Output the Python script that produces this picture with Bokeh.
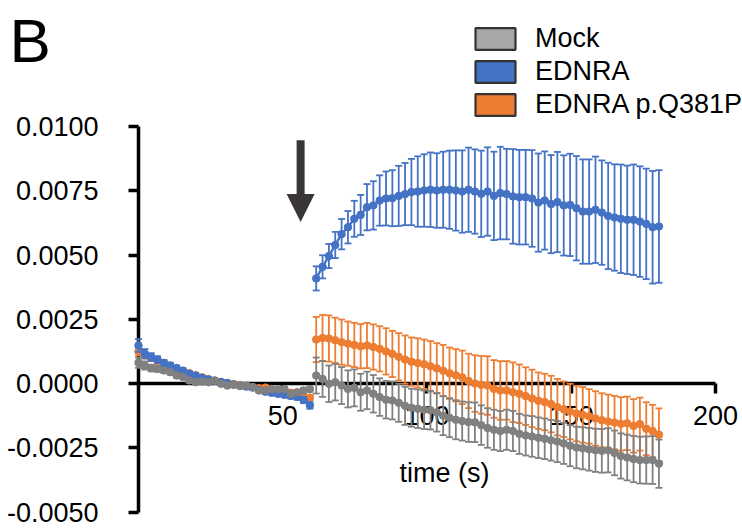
import numpy as np
from bokeh.plotting import figure
from bokeh.models import (ColumnDataSource, Arrow, NormalHead, Label, Legend,
                          LegendItem, FixedTicker, Range1d)
from bokeh.embed import file_html
from bokeh.resources import INLINE

# ---------------- data (values in units of 1e-3) ----------------
t_pre = [0.0, 2.2, 4.4, 6.6, 8.8, 11.0, 13.2, 15.4, 17.6, 19.8, 22.0, 24.2, 26.4, 28.6,
         30.8, 33.0, 35.2, 37.4, 39.6, 41.8, 44.0, 46.2, 48.4, 50.6, 52.8, 55.0, 57.2, 59.4]
t_post = [61.6, 63.8, 66.0, 68.2, 70.4, 72.6, 74.8, 77.0, 79.2, 81.4, 83.6, 85.8, 88.0,
          90.2, 92.4, 94.6, 96.8, 99.0, 101.2, 103.4, 105.6, 107.8, 110.0, 112.2, 114.4,
          116.6, 118.8, 121.0, 123.2, 125.4, 127.6, 129.8, 132.0, 134.2, 136.4, 138.6,
          140.8, 143.0, 145.2, 147.4, 149.6, 151.8, 154.0, 156.2, 158.4, 160.6, 162.8,
          165.0, 167.2, 169.4, 171.6, 173.8, 176.0, 178.2, 180.4]

mock_pre = [0.81, 0.70, 0.60, 0.57, 0.51, 0.44, 0.31, 0.25, 0.12, 0.05, 0.08, 0.05, 0.12, -0.01,
            -0.08, -0.05, -0.10, -0.08, -0.14, -0.27, -0.27, -0.21, -0.23, -0.21, -0.40, -0.34,
            -0.27, -0.22]
mock_pre_err = [0.20, 0.16, 0.13, 0.11, 0.10, 0.09, 0.09, 0.08, 0.08, 0.08, 0.08, 0.08, 0.08, 0.08,
                0.08, 0.08, 0.08, 0.08, 0.08, 0.08, 0.08, 0.08, 0.08, 0.08, 0.09, 0.09, 0.09, 0.09]
mock_post = [0.31, 0.18, -0.01, 0.05, -0.08, -0.21, -0.17, -0.34, -0.27, -0.40, -0.53, -0.63,
             -0.66, -0.75, -0.87, -0.94, -0.98, -1.02, -1.04, -1.12, -1.25, -1.33, -1.41, -1.46,
             -1.50, -1.51, -1.62, -1.73, -1.80, -1.85, -1.80, -1.85, -1.96, -2.02, -2.06, -2.11,
             -2.15, -2.21, -2.26, -2.33, -2.42, -2.49, -2.52, -2.56, -2.60, -2.62, -2.60, -2.70,
             -2.82, -2.88, -2.94, -2.98, -2.98, -2.98, -3.12]
mock_post_err = [0.70, 0.70, 0.71, 0.71, 0.72, 0.72, 0.72, 0.72, 0.73, 0.73, 0.73, 0.73, 0.74,
                 0.74, 0.74, 0.74, 0.75, 0.75, 0.75, 0.75, 0.76, 0.76, 0.76, 0.76, 0.77, 0.77,
                 0.77, 0.77, 0.78, 0.78, 0.78, 0.78, 0.78, 0.78, 0.79, 0.79, 0.79, 0.79, 0.80,
                 0.80, 0.80, 0.81, 0.82, 0.83, 0.84, 0.85, 0.86, 0.87, 0.88, 0.89, 0.90, 0.91,
                 0.92, 0.93, 0.94]

ednra_pre = [1.48, 1.16, 1.03, 0.93, 0.80, 0.70, 0.60, 0.50, 0.38, 0.31, 0.22, 0.16, 0.10, 0.06,
             0.02, -0.04, -0.08, -0.12, -0.16, -0.25, -0.32, -0.36, -0.40, -0.44, -0.48, -0.52,
             -0.64, -0.85]
ednra_pre_err = [0.25, 0.18, 0.15, 0.13, 0.12, 0.11, 0.10, 0.10, 0.10, 0.09, 0.09, 0.09, 0.08,
                 0.08, 0.08, 0.08, 0.08, 0.09, 0.09, 0.09, 0.09, 0.10, 0.10, 0.10, 0.11, 0.11,
                 0.12, 0.13]
ednra_post = [4.09, 4.54, 4.96, 5.39, 5.81, 6.08, 6.41, 6.56, 6.86, 6.93, 7.12, 7.20, 7.21, 7.30,
              7.37, 7.45, 7.47, 7.51, 7.54, 7.51, 7.54, 7.54, 7.51, 7.47, 7.54, 7.47, 7.38, 7.47,
              7.30, 7.41, 7.37, 7.28, 7.25, 7.25, 7.20, 7.04, 7.12, 6.98, 7.06, 6.93, 6.95, 6.82,
              6.69, 6.69, 6.76, 6.65, 6.52, 6.46, 6.41, 6.37, 6.37, 6.30, 6.21, 6.08, 6.11]
ednra_post_err = [0.47, 0.45, 0.47, 0.51, 0.59, 0.63, 0.70, 0.78, 0.90, 0.94, 0.98, 1.05, 1.09,
                  1.17, 1.21, 1.29, 1.37, 1.41, 1.45, 1.45, 1.48, 1.52, 1.56, 1.60, 1.64, 1.64,
                  1.68, 1.72, 1.72, 1.80, 1.76, 1.84, 1.84, 1.84, 1.88, 1.91, 1.91, 1.91, 1.95,
                  1.95, 1.99, 2.03, 2.03, 2.03, 2.07, 2.03, 2.07, 2.07, 2.11, 2.11, 2.15, 2.15,
                  2.15, 2.19, 2.19]

q381p_pre = [1.25, 1.10, 1.00, 0.88, 0.78, 0.68, 0.58, 0.48, 0.40, 0.32, 0.24, 0.17, 0.11, 0.06,
             0.02, -0.02, -0.06, -0.10, -0.14, -0.18, -0.16, -0.22, -0.28, -0.32, -0.36, -0.42,
             -0.50, -0.55]
q381p_pre_err = [0.15, 0.13, 0.12, 0.11, 0.10, 0.10, 0.09, 0.09, 0.09, 0.08, 0.08, 0.08, 0.08,
                 0.08, 0.08, 0.08, 0.08, 0.08, 0.08, 0.08, 0.08, 0.08, 0.08, 0.09, 0.09, 0.09,
                 0.10, 0.10]
q381p_post = [1.71, 1.77, 1.75, 1.68, 1.61, 1.55, 1.50, 1.45, 1.48, 1.42, 1.35, 1.25, 1.15, 1.04,
              0.93, 0.85, 0.80, 0.75, 0.67, 0.59, 0.50, 0.40, 0.32, 0.24, 0.10, 0.00, -0.05,
              -0.08, -0.21, -0.27, -0.27, -0.34, -0.40, -0.49, -0.58, -0.67, -0.72, -0.80, -0.92,
              -1.00, -1.09, -1.17, -1.22, -1.28, -1.36, -1.43, -1.48, -1.52, -1.57, -1.55, -1.65,
              -1.58, -1.76, -1.85, -1.99]
q381p_post_err = [0.88, 0.90, 0.90, 0.88, 0.88, 0.86, 0.86, 0.86, 0.88, 0.88, 0.88, 0.90, 0.90,
                  0.92, 0.94, 0.94, 0.96, 0.96, 0.98, 0.98, 1.00, 1.00, 1.02, 1.04, 1.06, 1.10,
                  1.12, 1.14, 1.12, 1.14, 1.14, 1.16, 1.14, 1.12, 1.12, 1.10, 1.10, 1.10, 1.10,
                  1.08, 1.08, 1.08, 1.08, 1.06, 1.06, 1.05, 1.05, 1.04, 1.04, 1.04, 1.04, 1.03,
                  1.03, 1.02, 1.02]

series_names = ["Mock", "EDNRA", "EDNRA p.Q381P"]
x_ticks = [50, 100, 150, 200]
y_ticks = [-0.005, -0.0025, 0.0, 0.0025, 0.005, 0.0075, 0.01]
y_tick_labels = ["-0.0050", "-0.0025", "0.0000", "0.0025", "0.0050", "0.0075", "0.0100"]
x_label = "time (s)"
panel_letter = "B"
arrow_t = 56.2
arrow_from, arrow_to = 0.00947, 0.00628

UNIT = 1e-3

# ---------------- style ----------------
C_MOCK, C_EDNRA, C_Q = "#808080", "#4472C4", "#ED7D31"
C_MOCK_LEG = "#A7A7A9"
FONT = "Liberation Sans"

p = figure(width=742, height=528, x_range=Range1d(-47.83, 209.36),
           y_range=Range1d(-0.005642, 0.014903), output_backend="svg",
           toolbar_location=None, min_border=0, outline_line_color=None)
p.grid.visible = False
p.background_fill_color = "white"
p.border_fill_color = "white"

xa, ya = p.xaxis[0], p.yaxis[0]
xa.fixed_location = 0
ya.fixed_location = 0
xa.bounds = (0, 200)
ya.bounds = (-0.005, 0.01)
xa.ticker = FixedTicker(ticks=x_ticks, minor_ticks=[])
ya.ticker = FixedTicker(ticks=y_ticks, minor_ticks=[])
ya.major_label_overrides = {k: v for k, v in zip(y_ticks, y_tick_labels)}
for ax in (xa, ya):
    ax.axis_line_width = 3.5
    ax.axis_line_color = "black"
    ax.major_tick_line_width = 3.5
    ax.major_tick_line_color = "black"
    ax.major_tick_out = 10
    ax.major_tick_in = 0
    ax.minor_tick_line_color = None
    ax.major_label_text_font = FONT
    ax.major_label_text_font_size = "27px"
    ax.major_label_text_color = "black"
xa.major_label_standoff = 12
ya.major_label_standoff = 30


def draw(t, v, e, color):
    v = np.array(v) * UNIT
    e = np.array(e) * UNIT
    src = ColumnDataSource(dict(t=t, v=v, lo=v - e, hi=v + e))
    p.segment("t", "lo", "t", "hi", source=src, line_color=color, line_width=1.8, level="overlay")
    p.scatter("t", "hi", source=src, marker="dash", size=7, line_color=color, line_width=1.8,
              level="overlay")
    p.scatter("t", "lo", source=src, marker="dash", size=7, line_color=color, line_width=1.8,
              level="overlay")
    p.line("t", "v", source=src, line_color=color, line_width=2.4, level="overlay")
    p.scatter("t", "v", source=src, size=7.5, fill_color=color, line_color=color, level="overlay")


draw(t_pre, q381p_pre, q381p_pre_err, C_Q)
draw(t_post, q381p_post, q381p_post_err, C_Q)
draw(t_pre, ednra_pre, ednra_pre_err, C_EDNRA)
draw(t_post, ednra_post, ednra_post_err, C_EDNRA)
draw(t_pre, mock_pre, mock_pre_err, C_MOCK)
draw(t_post, mock_post, mock_post_err, C_MOCK)

# arrow
ac = "#3A3637"
p.add_layout(Arrow(end=NormalHead(size=28, fill_color=ac, line_color=ac, line_width=0),
                   x_start=arrow_t, y_start=arrow_from, x_end=arrow_t, y_end=arrow_to,
                   line_width=8, line_color=ac))

# legend with box glyphs (renderers hold a single NaN row so that only the key is drawn)
nan = float("nan")
leg_items = []
for name, fc in zip(series_names, [C_MOCK_LEG, C_EDNRA, C_Q]):
    r = p.quad(left=[nan], right=[nan], top=[nan], bottom=[nan], fill_color=fc,
               line_color="#333333", line_width=2.2)
    leg_items.append(LegendItem(label=name, renderers=[r]))
legend = Legend(items=leg_items, location=(470, 408), padding=0, spacing=2, margin=0,
                glyph_width=50, glyph_height=27, label_standoff=15,
                label_text_font=FONT, label_text_font_size="27px", label_text_color="black",
                border_line_color=None, background_fill_alpha=0)
p.add_layout(legend)

p.add_layout(Label(x=9, y=488, x_units="screen", y_units="screen", text=panel_letter,
                   text_font=FONT, text_font_size="62px", text_baseline="alphabetic",
                   text_color="black"))
p.add_layout(Label(x=106.1, y=-0.003463, text=x_label, text_font=FONT, text_font_size="27px",
                   text_align="center", text_baseline="middle", text_color="black"))

open("out.html", "w").write(file_html(p, INLINE))
